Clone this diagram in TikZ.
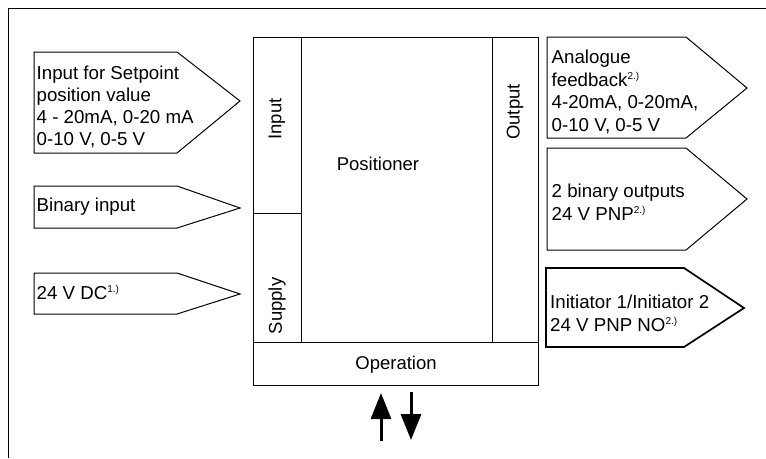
\documentclass[tikz,border=0pt]{standalone}
\usepackage{fontspec}
\setmainfont{Liberation Sans}
\usetikzlibrary{arrows.meta}
\newcommand\fnote[1]{\raisebox{6.5pt}{\fontsize{10}{10}\selectfont #1}}
\begin{document}
\begin{tikzpicture}[x=1pt,y=-1pt,
  box/.style={draw=black,line width=1pt,line join=miter},
  boldbox/.style={draw=black,line width=1.7pt,line join=miter},
  txt/.style={inner sep=0pt,anchor=base west,align=left,font=\fontsize{18.7}{22}\selectfont},
  txtr/.style={inner sep=0pt,anchor=base west,align=left,font=\fontsize{18.7}{22.5}\selectfont},
  lbl/.style={inner sep=0pt,font=\fontsize{18.5}{22}\selectfont},
  opar/.style={line width=3pt,-{Triangle[width=20pt,length=26pt]}}]
\useasboundingbox (0,0) rectangle (766,458);
% outer frame
\draw[line width=1pt] (8,458) -- (8,8) -- (766,8);
% left signals
\draw[box] (34,52) -- (177,52) -- (240,101) -- (177,153) -- (34,153) -- cycle;
\draw[box] (34,186) -- (177,186) -- (240,208) -- (177,228) -- (34,228) -- cycle;
\draw[box] (34,273) -- (177,273) -- (240,294) -- (177,314) -- (34,314) -- cycle;
\node[txt] (tin) at (36.5,145.5) {Input for Setpoint\\position value\\4 - 20mA, 0-20 mA\\0-10 V, 0-5 V};
\node[txt] (tbin) at (36.5,211.5) {Binary input};
\node[txt] (tdc) at (36.5,299) {24 V DC\fnote{1.)}};
% main box
\draw[box] (253,37) rectangle (538,385);
\draw[box] (301,37) -- (301,342);
\draw[box] (492,37) -- (492,342);
\draw[box] (253,342) -- (538,342);
\draw[box] (253,213) -- (301,213);
\node[lbl,rotate=90] (linput) at (277,119) {Input};
\node[lbl,rotate=90] (lsupply) at (277,306) {Supply};
\node[lbl,rotate=90] (loutput) at (515,112) {Output};
\node[lbl,anchor=base] (lpos) at (378,170) {Positioner};
\node[lbl,anchor=base] (lop) at (396,369) {Operation};
% operation arrows
\coordinate (u1) at (381,441);
\coordinate (u2) at (381,393);
\coordinate (d1) at (411,392);
\coordinate (d2) at (411,440);
\draw[opar] (u1) -- (u2);
\draw[opar] (d1) -- (d2);
% right signals
\draw[box] (547,37) -- (686,37) -- (747,88) -- (686,138) -- (547,138) -- cycle;
\draw[box] (547,148) -- (686,148) -- (747,199) -- (686,250) -- (547,250) -- cycle;
\draw[boldbox] (546,268) -- (684,268) -- (744,308) -- (684,347) -- (546,347) -- cycle;
\node[txtr] (tana) at (551.5,131) {Analogue\\feedback\fnote{2.)}\\4-20mA, 0-20mA,\\0-10 V, 0-5 V};
\node[txtr] (tbo) at (551.5,220) {2 binary outputs\\24 V PNP\fnote{2.)}};
\node[txtr] (tini) at (550,331) {Initiator 1/Initiator 2\\24 V PNP NO\fnote{2.)}};
\end{tikzpicture}
\end{document}
